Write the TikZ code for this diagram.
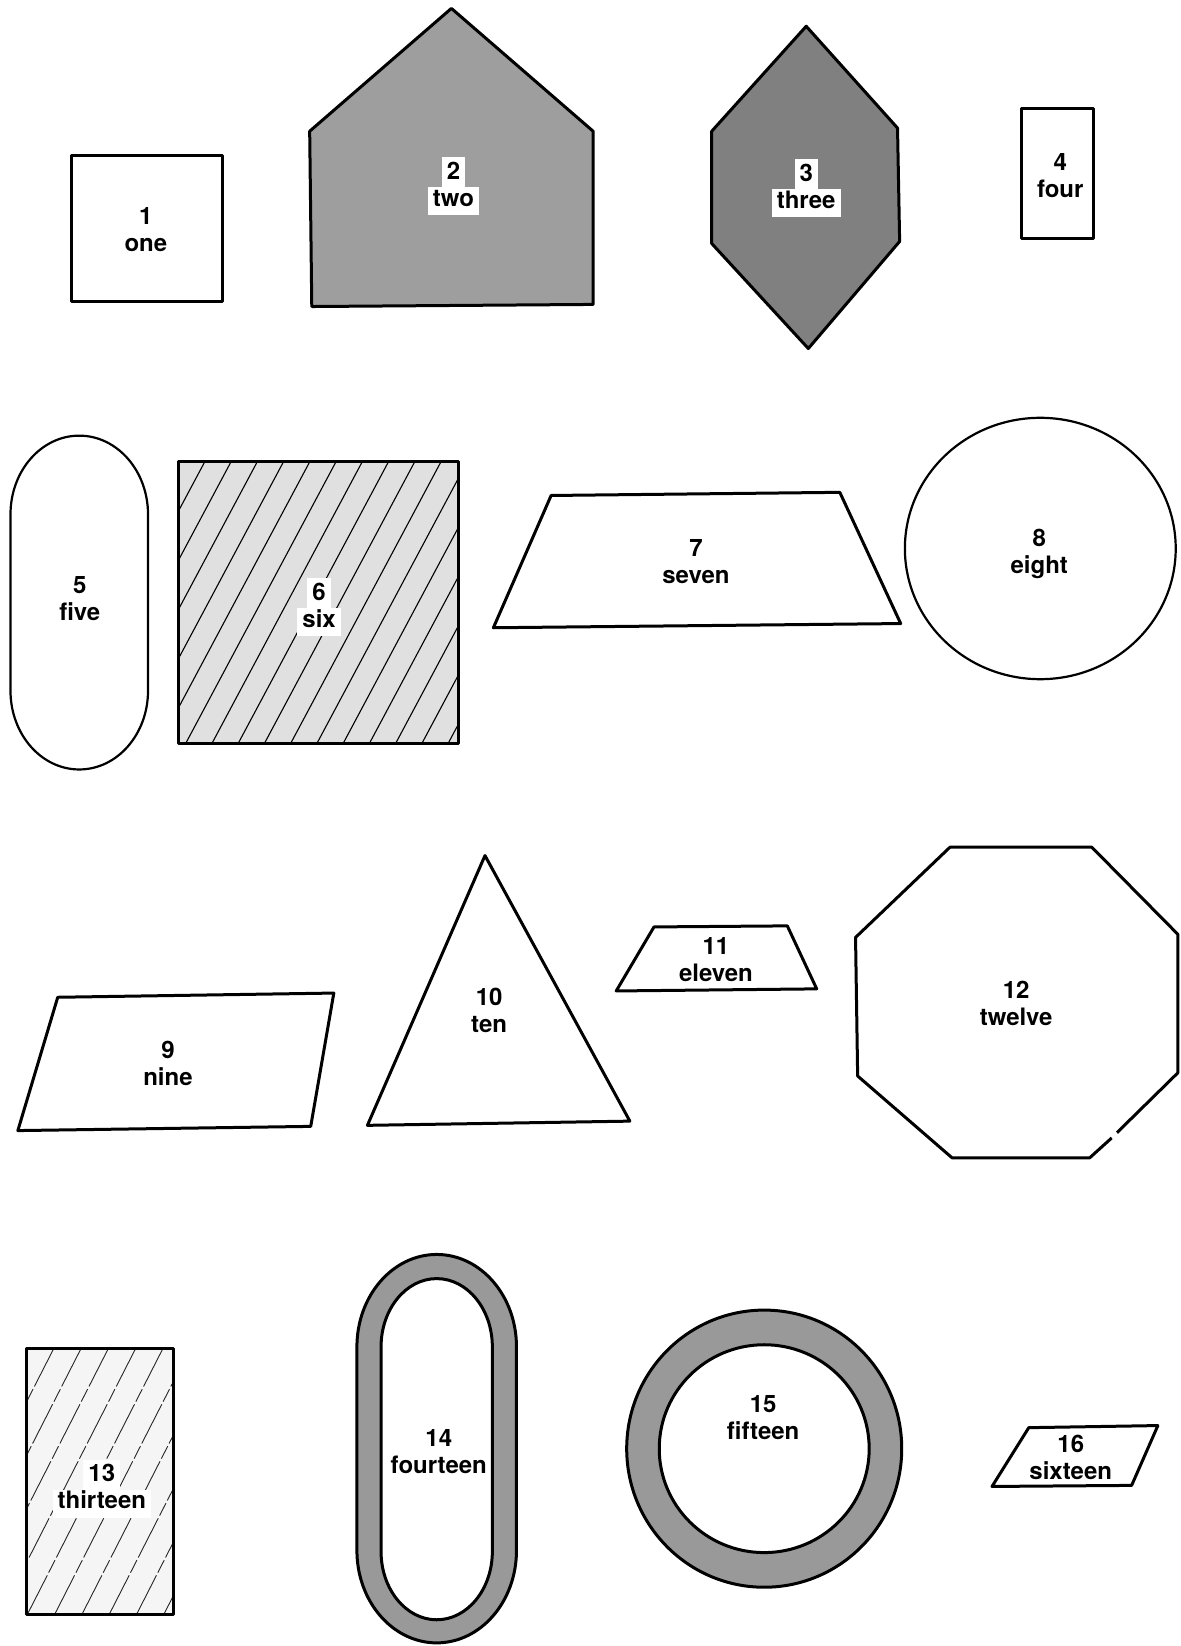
\documentclass[tikz,border=0pt]{standalone}
\usepackage{fontspec}
\setmainfont{TeX Gyre Heros}
% white knock-out behind the label lines on filled shapes
\newcommand{\knocktop}[1]{{\setlength\fboxsep{0pt}\colorbox{white}{\hspace{2.5pt}\rule[-4pt]{0pt}{15pt}#1\hspace{2.5pt}}}}
\newcommand{\knockbot}[1]{{\setlength\fboxsep{0pt}\colorbox{white}{\hspace{2.5pt}\rule[-4.5pt]{0pt}{14pt}#1\hspace{2.5pt}}}}
\begin{document}
\begin{tikzpicture}[x=0.5249pt, y=-0.5249pt,
  every node/.style={font=\fontsize{12}{13.5}\selectfont\bfseries, align=center, text depth=0pt},
  outline/.style={line width=1.5pt, line join=round},
  thinline/.style={line width=1.1pt},
  hatch/.style={line width=0.55pt},
  thinhatch/.style={line width=0.45pt, black!85, dash pattern=on 22pt off 1.5pt on 7pt off 1.5pt}]

  \useasboundingbox (0,0) rectangle (1125,1568);

  % row one
  \draw[outline] (68,148) rectangle (212,287);
  \node (one) at (139,219) {1\\one};

  \draw[outline, fill=black!38] (430,8) -- (565,125) -- (565,290) -- (297,292) -- (295,125) -- cycle;
  \node (two) at (432,173) {\knocktop{2}\\\knockbot{two}};

  \draw[outline, fill=black!50] (768,25) -- (855,122) -- (857,230) -- (770,332) -- (678,232) -- (678,125) -- cycle;
  \node (three) at (768,175) {\knocktop{3}\\\knockbot{three}};

  \draw[outline] (973,103) rectangle (1042,227);
  \node (four) at (1010,167) {4\\four};

  % row two
  \draw[thinline] (10,490) arc[start angle=180, end angle=360, x radius=65.5, y radius=75]
    -- (141,658) arc[start angle=0, end angle=180, x radius=65.5, y radius=75] -- cycle;
  \node (five) at (76,570) {5\\five};

  \fill[black!12] (170,440) rectangle (437,708);
  \begin{scope}
    \clip (170,440) rectangle (437,708);
    \foreach \k in {0,...,17}
      \draw[hatch] ({27+\k*25},708) -- ++(143,-268);
  \end{scope}
  \draw[outline] (170,440) rectangle (437,708);
  \node (six) at (304,574) {\knocktop{6}\\\knockbot{six}};

  \draw[outline] (525,472) -- (800,469) -- (858,594) -- (470,598) -- cycle;
  \node (seven) at (663,535) {7\\seven};

  \draw[thinline] (991,522.5) ellipse [x radius=129, y radius=124.5];
  \node (eight) at (990,525) {8\\eight};

  % row three
  \draw[outline] (55,950) -- (318,946) -- (296,1073) -- (17,1077) -- cycle;
  \node (nine) at (160,1013) {9\\nine};

  \draw[outline] (462,815) -- (600,1068) -- (350,1072) -- cycle;
  \node (ten) at (466,962) {10\\ten};

  \draw[outline] (623,883) -- (750,882) -- (778,942) -- (587,944) -- cycle;
  \node (eleven) at (682,914) {11\\eleven};

  % octagon, with the small break low on the right
  \draw[outline] (1059,1084) -- (1038,1103) -- (907,1103) -- (817,1025) -- (815,893)
    -- (905,807) -- (1040,807) -- (1122,890) -- (1122,1022) -- (1064,1079);
  \node (twelve) at (968,956) {12\\twelve};

  % row four
  \fill[black!4] (25,1285) rectangle (165,1538);
  \begin{scope}
    \clip (25,1285) rectangle (165,1538);
    \foreach \k in {0,...,11}
      \draw[thinhatch] ({-104+\k*26},1538) -- ++(129,-253);
  \end{scope}
  \draw[outline] (25,1285) rectangle (165,1538);
  \node (thirteen) at (97,1414) {\knocktop{13}\\\knockbot{thirteen}};

  % ring round 14
  \fill[black!40, even odd rule]
    (340,1283) arc[start angle=180, end angle=360, x radius=76, y radius=88]
      -- (492,1477) arc[start angle=0, end angle=180, x radius=76, y radius=88] -- cycle
    (363,1283) arc[start angle=180, end angle=360, x radius=53, y radius=65]
      -- (469,1478) arc[start angle=0, end angle=180, x radius=53, y radius=65] -- cycle;
  \draw[outline] (340,1283) arc[start angle=180, end angle=360, x radius=76, y radius=88]
      -- (492,1477) arc[start angle=0, end angle=180, x radius=76, y radius=88] -- cycle;
  \draw[outline] (363,1283) arc[start angle=180, end angle=360, x radius=53, y radius=65]
      -- (469,1478) arc[start angle=0, end angle=180, x radius=53, y radius=65] -- cycle;
  \node (fourteen) at (418,1383) {14\\fourteen};

  % ring round 15
  \fill[black!40, even odd rule] (728,1380) ellipse [x radius=131, y radius=132]
    (728,1380) ellipse [x radius=100, y radius=99];
  \draw[outline] (728,1380) ellipse [x radius=131, y radius=132];
  \draw[outline] (728,1380) ellipse [x radius=100, y radius=99];
  \node (fifteen) at (727,1350) {15\\fifteen};

  \draw[outline] (980,1360) -- (1103,1358) -- (1078,1415) -- (945,1416) -- cycle;
  \node (sixteen) at (1020,1388) {16\\sixteen};
\end{tikzpicture}
\end{document}
